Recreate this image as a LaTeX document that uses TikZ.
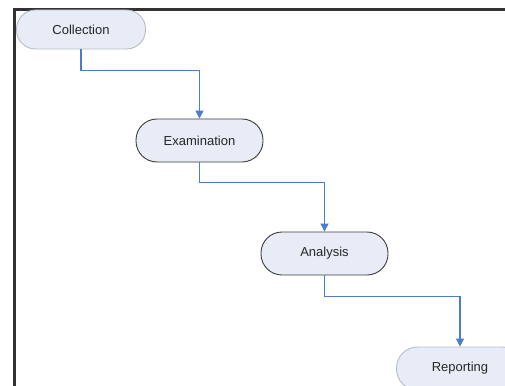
\documentclass[tikz,border=0pt]{standalone}
\usepackage{fontspec}
\setmainfont{Liberation Sans}
\usetikzlibrary{arrows.meta}
\definecolor{flowblue}{RGB}{74,126,201}
\definecolor{boxfill}{RGB}{231,236,246}
\definecolor{lightedge}{RGB}{185,188,196}
\definecolor{darkedge}{RGB}{60,60,60}
\definecolor{framecol}{RGB}{50,50,50}
\tikzset{
  stadium/.style={draw=#1, fill=boxfill, line width=0.9pt, rounded corners=21pt,
    minimum width=127pt, minimum height=43pt, inner sep=0pt,
    font=\fontsize{13}{15}\selectfont, text=black!85},
  flow/.style={draw=flowblue, line width=1.2pt, -{Triangle[width=8pt,length=8pt]}},
  framestyle/.style={draw=framecol, line width=2.2pt}
}
\begin{document}
\begin{tikzpicture}[x=1pt,y=-1pt]
\useasboundingbox (0,0) rectangle (505,385);
\clip (0,0) rectangle (505,385);
\coordinate (fbl) at (14.5,390);
\coordinate (ftl) at (14.5,9.5);
\coordinate (ftr) at (510,9.5);
\draw[framestyle] (fbl) -- (ftl) -- (ftr);
\node[stadium=lightedge, minimum width=129pt, minimum height=39pt, rounded corners=19pt] (col) at (81,29.5) {Collection};
\node[stadium=darkedge] (exa) at (199.5,140.5) {Examination};
\node[stadium=darkedge] (ana) at (324.5,253.5) {Analysis};
\node[stadium=lightedge] (rep) at (460,368.5) {Reporting};
\draw[flow] (col.south) -- ++(0,21) -| (exa.north);
\draw[flow] (exa.south) -- ++(0,20) -| (ana.north);
\draw[flow] (ana.south) -- ++(0,21) -| (rep.north);
\end{tikzpicture}
\end{document}
